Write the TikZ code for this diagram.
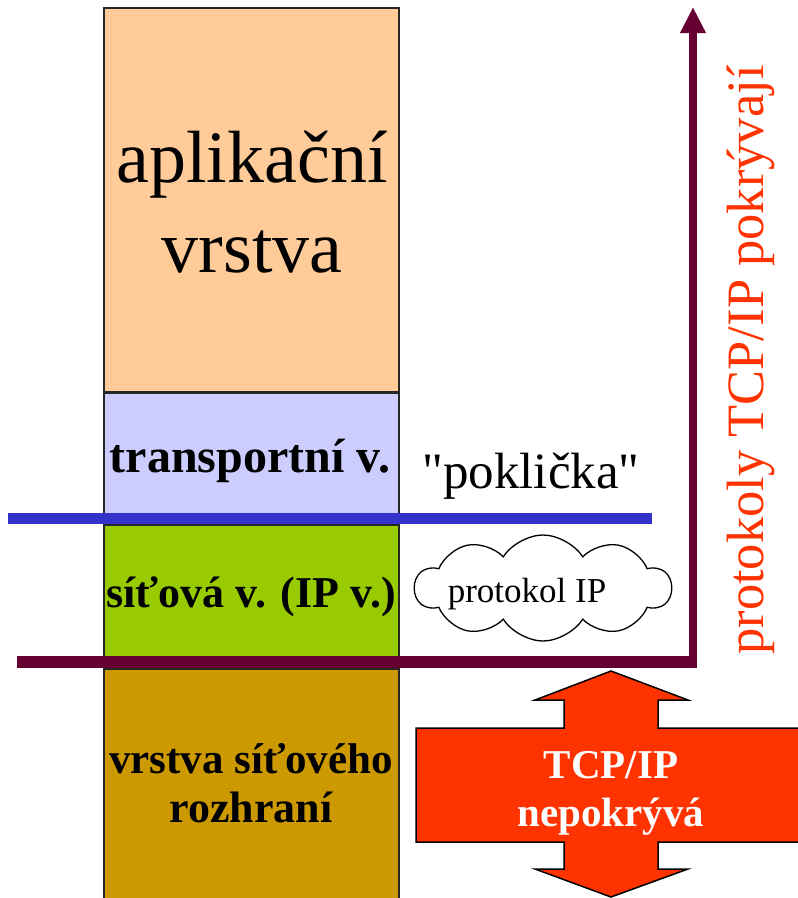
\documentclass[tikz,border=0pt]{standalone}
\usepackage{fontspec}
\setmainfont{Liberation Serif}
\newfontfamily\rawserif{Liberation Serif}
\usetikzlibrary{shapes.symbols,arrows.meta}
\definecolor{peach}{HTML}{FFCC99}
\definecolor{lavender}{HTML}{CCCCFF}
\definecolor{leaf}{HTML}{99CC00}
\definecolor{ochre}{HTML}{CC9900}
\definecolor{lidblue}{HTML}{3333CC}
\definecolor{maroon}{HTML}{660033}
\definecolor{redorange}{HTML}{FF3300}
\newcommand{\fs}[1]{\fontsize{#1}{#1}\selectfont}
\begin{document}
\begin{tikzpicture}[x=1pt,y=-1pt,
  layer/.style={draw=black!85,line width=2pt,minimum width=295pt,anchor=north west,inner sep=0pt},
  ltext/.style={anchor=base,inner sep=0pt,font=\fs{44}\bfseries},
  bigtext/.style={anchor=base,inner sep=0pt,font=\fs{74}}]
\useasboundingbox (0,0) rectangle (798,898);
% layers
\node[layer,fill=peach,minimum height=384pt] (app) at (103,7) {};
\node[layer,fill=lavender,minimum height=132pt] (trans) at (103,392) {};
\node[layer,fill=leaf,minimum height=144pt] (net) at (103,524) {};
\node[layer,fill=ochre,minimum height=240pt] (link) at (103,668) {};
% layer texts
\node[bigtext] (t1) at (252,182) {aplikační};
\node[bigtext] (t2) at (252,272) {vrstva};
\node[ltext,font=\fs{48}\bfseries] (t3) at (250,472) {transportní v.};
\node[ltext] (t4) at (251,607) {síťová v. (IP v.)};
\node[ltext,font=\fs{43}\bfseries] (t5) at (251,773) {vrstva síťového};
\node[ltext] (t6) at (251,822) {rozhraní};
% lid
\node[anchor=base,inner sep=0pt,font=\rawserif\fs{51}] (lid) at (531,488) {"poklička"};
\coordinate (b1) at (8,518);
\coordinate (b2) at (652,518);
\draw[lidblue,line width=11pt] (b1) -- (b2);
% cloud
\node[cloud,draw,line width=1.3pt,fill=white,cloud puffs=10,cloud puff arc=115,aspect=2.4,
  minimum width=256pt,minimum height=106pt,inner sep=0pt] (cl) at (543,588) {};
\node[anchor=base,inner sep=0pt,font=\fs{35}] (ip) at (527,602) {protokol IP};
% maroon line and arrow
\coordinate (m1) at (17,662);
\coordinate (m2) at (697,662);
\coordinate (m3) at (693,668);
\coordinate (m4) at (693,7);
\draw[maroon,line width=12pt] (m1) -- (m2);
\draw[maroon,line width=8pt,-{Triangle[length=26pt,width=24pt]}] (m3) -- (m4);
\node[rotate=90,anchor=base,inner sep=0pt,font=\fs{52.5},text=redorange] (cov) at (763,360) {protokoly TCP/IP pokrývají};
% double arrow
\draw[fill=redorange,line width=1.5pt,line join=miter] (611,671) -- (688,700) -- (658,700) -- (658,728) -- (805,728) -- (805,842) -- (658,842) -- (658,869) -- (688,869) -- (611,897) -- (535,869) -- (564,869) -- (564,842) -- (416,842) -- (416,728) -- (564,728) -- (564,700) -- (535,700) -- cycle;
\node[anchor=base,inner sep=0pt,font=\fs{41}\bfseries,text=white] (n1) at (611,778) {TCP/IP};
\node[anchor=base,inner sep=0pt,font=\fs{41}\bfseries,text=white] (n2) at (611,826) {nepokrývá};
\end{tikzpicture}
\end{document}
